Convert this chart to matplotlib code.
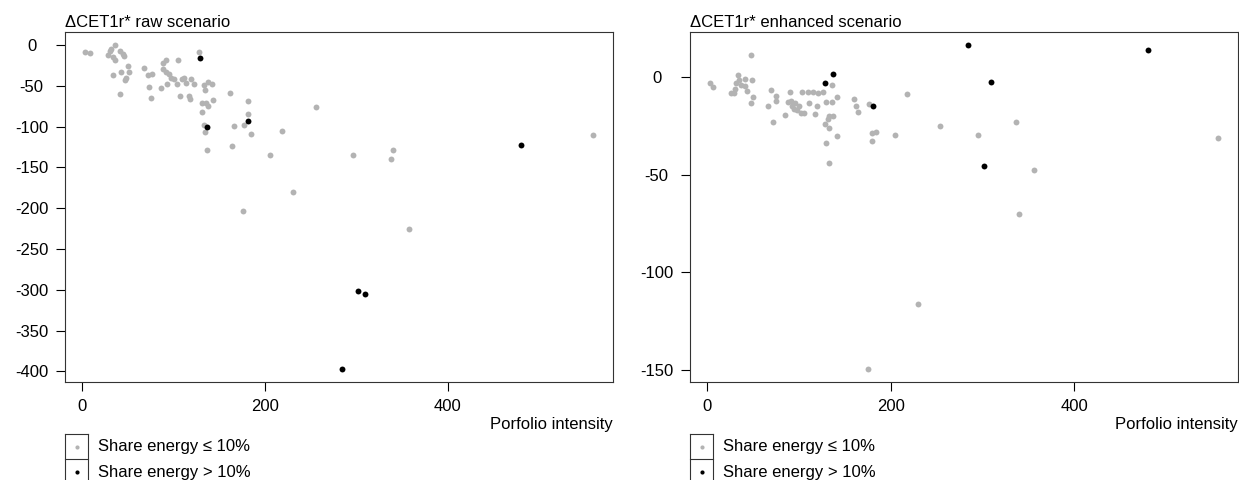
import matplotlib
matplotlib.use("Agg")
import matplotlib.pyplot as plt
from matplotlib.lines import Line2D

plt.rcParams['font.family'] = ['Liberation Sans', 'DejaVu Sans']
plt.rcParams['font.size'] = 12

GREY = '#b3b3b3'

# raw scenario, share energy <= 10%
raw_low_x = [3.5, 8.8, 35.7, 32, 30, 27.8, 33.5, 35.7, 41, 44.5, 46, 33.5, 42.3, 49.8,
             51, 48.5, 47, 41.4, 67.4, 71.8, 76, 73, 75.8, 86, 89, 91.6, 89, 92, 94.7,
             97, 93, 100, 104, 105, 107, 109, 111.5, 113.7, 117, 118, 119, 122, 128,
             131, 133.5, 134, 131, 135.7, 138, 138, 142, 143, 133.5, 134.5, 137, 161.7,
             181, 181, 177.5, 166.5, 185, 164, 219, 205.7, 255.5, 231, 176, 296.5,
             340.5, 338, 357.7, 558.6]
raw_low_y = [-9, -10.3, 0, -5, -8, -12, -15, -18.5, -8, -11, -14, -36.6, -33.7, -26,
             -33, -40, -43, -60.5, -28.4, -36.6, -35.8, -52, -65, -53, -22.6, -18.5,
             -29.6, -33, -35.8, -40, -48, -42, -48, -18.5, -62.5, -42, -40, -47, -62.5,
             -66.7, -42, -48, -9, -82, -49, -55, -70.8, -70.8, -75, -45, -48, -67.5,
             -98.4, -106.6, -129, -59, -68.7, -85, -97.5, -99.6, -108.6, -124, -105,
             -135, -76.5, -180, -204, -134.6, -129, -140, -226, -110]

# raw scenario, share energy > 10%
raw_high_x = [129, 137, 182, 284, 302, 309, 480]
raw_high_y = [-16, -101, -93, -397, -301, -304.5, -122]

# enhanced scenario, share energy <= 10%
enh_low_x = [3.5, 6.6, 26.3, 29.8, 30.7, 33.8, 35, 36.4, 32, 40.8, 41.7, 44, 47.4, 48.7,
             50.5, 47.4, 70, 74.6, 74.6, 66.7, 72, 84.3, 90, 88, 91, 92, 94.4, 99.7,
             102, 105, 103, 111, 115.5, 109.8, 118, 119.5, 126.4, 128.6, 131.6, 133,
             129.4, 132.6, 136, 136, 137, 141, 141, 160, 162.4, 164.6, 176.5, 180, 180,
             183.5, 204.6, 217.8, 253.8, 230, 174.7, 295, 336, 339.4, 356, 556,
             96, 98, 121, 130, 133]
enh_low_y = [-3.1, -5.2, -8, -8, -6, 0.9, -1.4, -4, -3, -0.9, -4.6, -6.9, 11.5, -1.7,
             -10.3, -13.4, -6.4, -9.8, -12.4, -14.6, -22.9, -19.4, -7.7, -12.9, -12,
             -14.6, -16.3, -15, -18.6, -18.6, -7.7, -13.4, -7.4, -7.7, -19, -15, -7.7,
             -24, -21.5, -25.8, -33.8, -44, -4, -12.9, -19.8, -10.3, -30, -11.3, -14.6,
             -18, -13.7, -28.7, -32.5, -28, -29.6, -8.8, -24.9, -116, -149.5, -29.6,
             -23.2, -70, -47.8, -31.3, -13, -17, -8, -12.5, -20]

# enhanced scenario, share energy > 10%
enh_high_x = [128, 137, 181, 283.6, 302, 309, 480]
enh_high_y = [-3.1, 1.5, -15, 16.5, -45.4, -2.6, 13.7]

titles = ["\u0394CET1r* raw scenario", "\u0394CET1r* enhanced scenario"]
x_label = "Porfolio intensity"
legend_labels = ["Share energy \u2264 10%", "Share energy > 10%"]
x_ticks = [0, 200, 400]
y_ticks = [list(range(0, -401, -50)), [0, -50, -100, -150]]


def r_range(vals):
    # R style axis range: data range widened by 4% on each side
    lo, hi = min(vals), max(vals)
    d = (hi - lo) * 0.04
    return lo - d, hi + d


W, H = 1239, 480
fig = plt.figure(figsize=(W / 100, H / 100), dpi=100)

panels = [
    (raw_low_x, raw_low_y, raw_high_x, raw_high_y, 65),
    (enh_low_x, enh_low_y, enh_high_x, enh_high_y, 690),
]

overlay = fig.add_axes([0, 0, 1, 1])
overlay.set_xlim(0, W)
overlay.set_ylim(H, 0)
overlay.axis('off')
overlay.set_zorder(5)

for i, (lx, ly, hx, hy, left_px) in enumerate(panels):
    ax = fig.add_axes([left_px / W, (H - 382) / H, 548 / W, 350 / H])
    ax.scatter(lx, ly, s=18, color=GREY, linewidths=0, zorder=2)
    ax.scatter(hx, hy, s=18, color='black', linewidths=0, zorder=3)

    ax.set_xlim(*r_range(lx + hx))
    ax.set_ylim(*r_range(ly + hy))
    ax.set_xticks(x_ticks)
    ax.set_yticks(y_ticks[i])
    ax.set_yticklabels([str(v) for v in y_ticks[i]], ha='center')
    ax.tick_params(axis='y', direction='out', length=6.5, width=0.8, pad=17.5)
    ax.tick_params(axis='x', direction='out', length=6.5, width=0.8, pad=5.5)
    for sp in ax.spines.values():
        sp.set_linewidth(0.8)
        sp.set_color('#333333')

    ax.text(0, 1.026, titles[i], transform=ax.transAxes, ha='left', va='center')
    ax.text(1.0, -0.12, x_label, transform=ax.transAxes, ha='right', va='center')

    # legend drawn as small boxed cells like the original
    x0, x1 = left_px, left_px + 23
    for yy in (434, 459):
        overlay.add_line(Line2D([x0, x1], [yy, yy], color='#333333', lw=0.8))
    for xx in (x0, x1):
        overlay.add_line(Line2D([xx, xx], [434, 481], color='#333333', lw=0.8))
    overlay.scatter([x0 + 11.5], [446.5], s=9, color=GREY, linewidths=0)
    overlay.scatter([x0 + 11.5], [472], s=9, color='black', linewidths=0)
    overlay.text(x1 + 10, 447, legend_labels[0], ha='left', va='center')
    overlay.text(x1 + 10, 473, legend_labels[1], ha='left', va='center')

fig.savefig("out.png", dpi=100)
